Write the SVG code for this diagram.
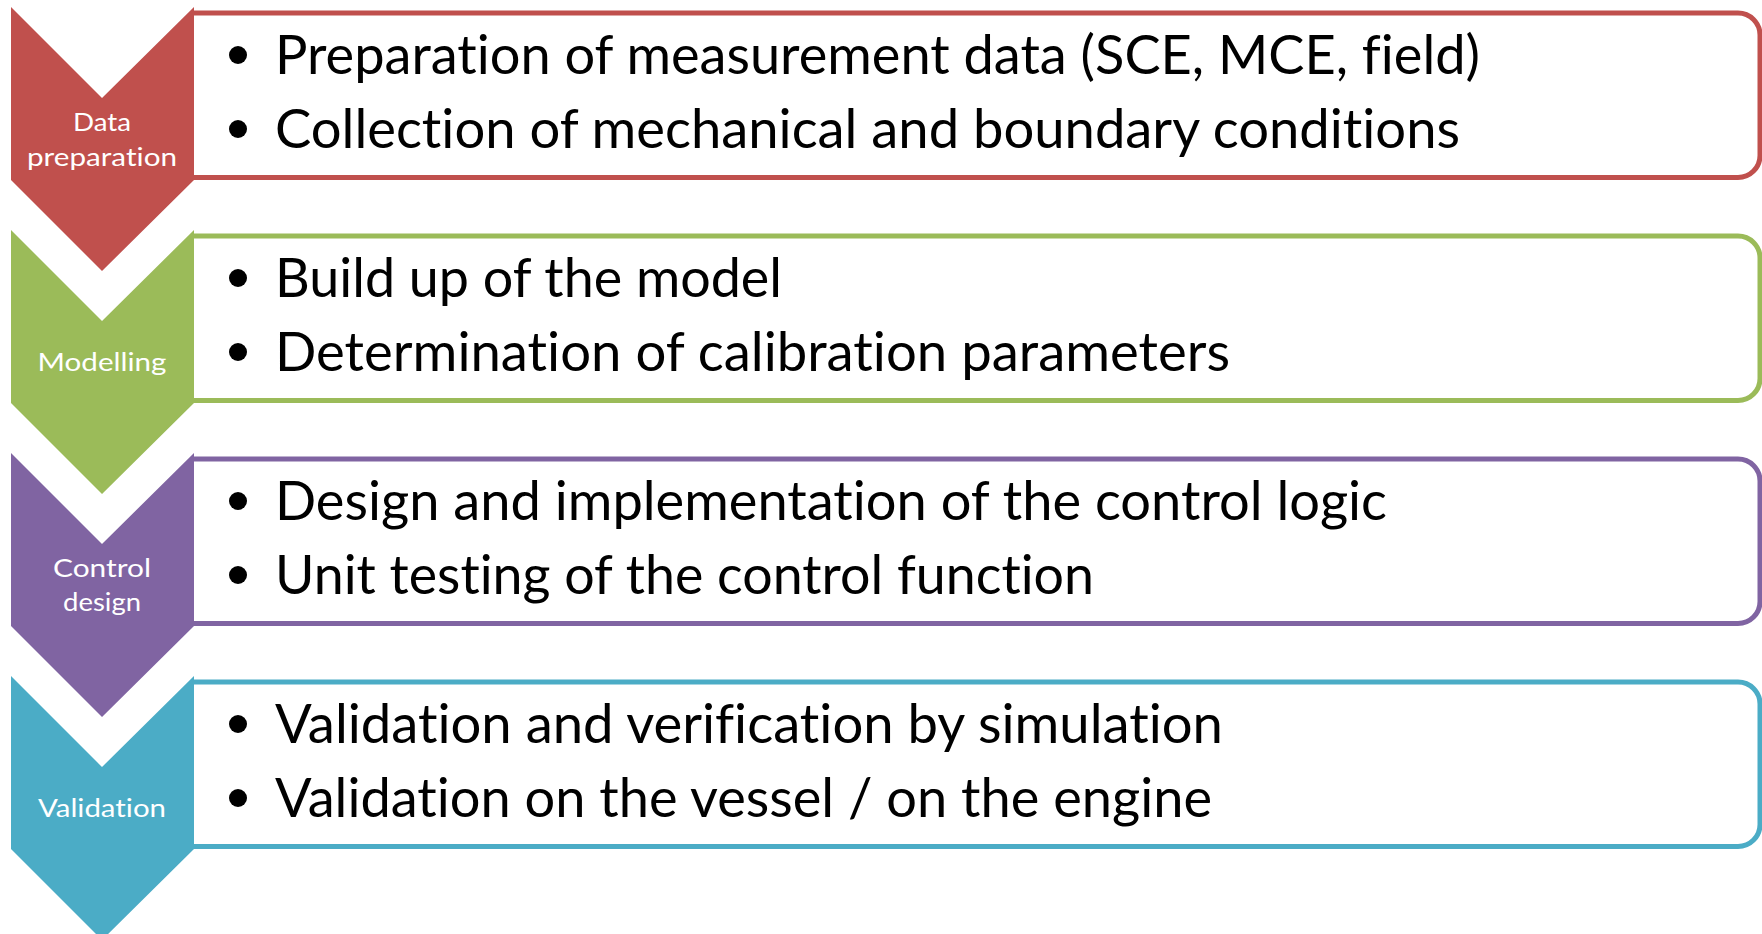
<svg xmlns="http://www.w3.org/2000/svg" width="1762" height="934" viewBox="0 0 1762 934">
<style>
.box{fill:#fff;stroke-width:5}
.main{font-family:Lato,"Open Sans","Liberation Sans",sans-serif;font-size:54px;fill:#000;font-variant-ligatures:none}
.lbl{font-family:Lato,"Open Sans","Liberation Sans",sans-serif;font-size:25px;fill:#fff;text-anchor:middle;font-variant-ligatures:none}
.dot{fill:#000}
</style>
<defs>
<polygon id="chev" points="11,0 102,91 194,0 194,173 102,264 11,173"/>
<path id="frame" d="M194,0 H1738 A22,22 0 0 1 1760,22 V142.5 A22,22 0 0 1 1738,164.5 H194"/>
</defs>
<rect width="1762" height="934" fill="#fff"/>

<g id="step1">
<use href="#frame" transform="translate(0,13)" class="box" stroke="#C0504D"/>
<use href="#chev" transform="translate(0,7)" fill="#C0504D"/>
<text class="lbl" x="102" y="131" textLength="58" lengthAdjust="spacingAndGlyphs">Data</text>
<text class="lbl" x="102" y="166" textLength="150" lengthAdjust="spacingAndGlyphs">preparation</text>
<circle class="dot" cx="238" cy="55" r="9"/>
<text class="main" x="275" y="74" textLength="1205" lengthAdjust="spacingAndGlyphs">Preparation of measurement data (SCE, MCE, field)</text>
<circle class="dot" cx="238" cy="129" r="9"/>
<text class="main" x="275" y="148" textLength="1185" lengthAdjust="spacingAndGlyphs">Collection of mechanical and boundary conditions</text>
</g>

<g id="step2">
<use href="#frame" transform="translate(0,236)" class="box" stroke="#9BBB59"/>
<use href="#chev" transform="translate(0,230)" fill="#9BBB59"/>
<text class="lbl" x="102" y="371" textLength="129" lengthAdjust="spacingAndGlyphs">Modelling</text>
<circle class="dot" cx="238" cy="278" r="9"/>
<text class="main" x="275" y="297" textLength="507" lengthAdjust="spacingAndGlyphs">Build up of the model</text>
<circle class="dot" cx="238" cy="352" r="9"/>
<text class="main" x="275" y="371" textLength="955" lengthAdjust="spacingAndGlyphs">Determination of calibration parameters</text>
</g>

<g id="step3">
<use href="#frame" transform="translate(0,459)" class="box" stroke="#8064A2"/>
<use href="#chev" transform="translate(0,453)" fill="#8064A2"/>
<text class="lbl" x="102" y="577" textLength="98" lengthAdjust="spacingAndGlyphs">Control</text>
<text class="lbl" x="102" y="611" textLength="78" lengthAdjust="spacingAndGlyphs">design</text>
<circle class="dot" cx="238" cy="501" r="9"/>
<text class="main" x="275" y="520" textLength="1112" lengthAdjust="spacingAndGlyphs">Design and implementation of the control logic</text>
<circle class="dot" cx="238" cy="575" r="9"/>
<text class="main" x="275" y="594" textLength="819" lengthAdjust="spacingAndGlyphs">Unit testing of the control function</text>
</g>

<g id="step4">
<use href="#frame" transform="translate(0,682)" class="box" stroke="#4BACC6"/>
<use href="#chev" transform="translate(0,676)" fill="#4BACC6"/>
<text class="lbl" x="102" y="817" textLength="128" lengthAdjust="spacingAndGlyphs">Validation</text>
<circle class="dot" cx="238" cy="724" r="9"/>
<text class="main" x="275" y="743" textLength="948" lengthAdjust="spacingAndGlyphs">Validation and verification by simulation</text>
<circle class="dot" cx="238" cy="798" r="9"/>
<text class="main" x="275" y="817" textLength="937" lengthAdjust="spacingAndGlyphs">Validation on the vessel / on the engine</text>
</g>

<g id="connectors"></g>
</svg>
